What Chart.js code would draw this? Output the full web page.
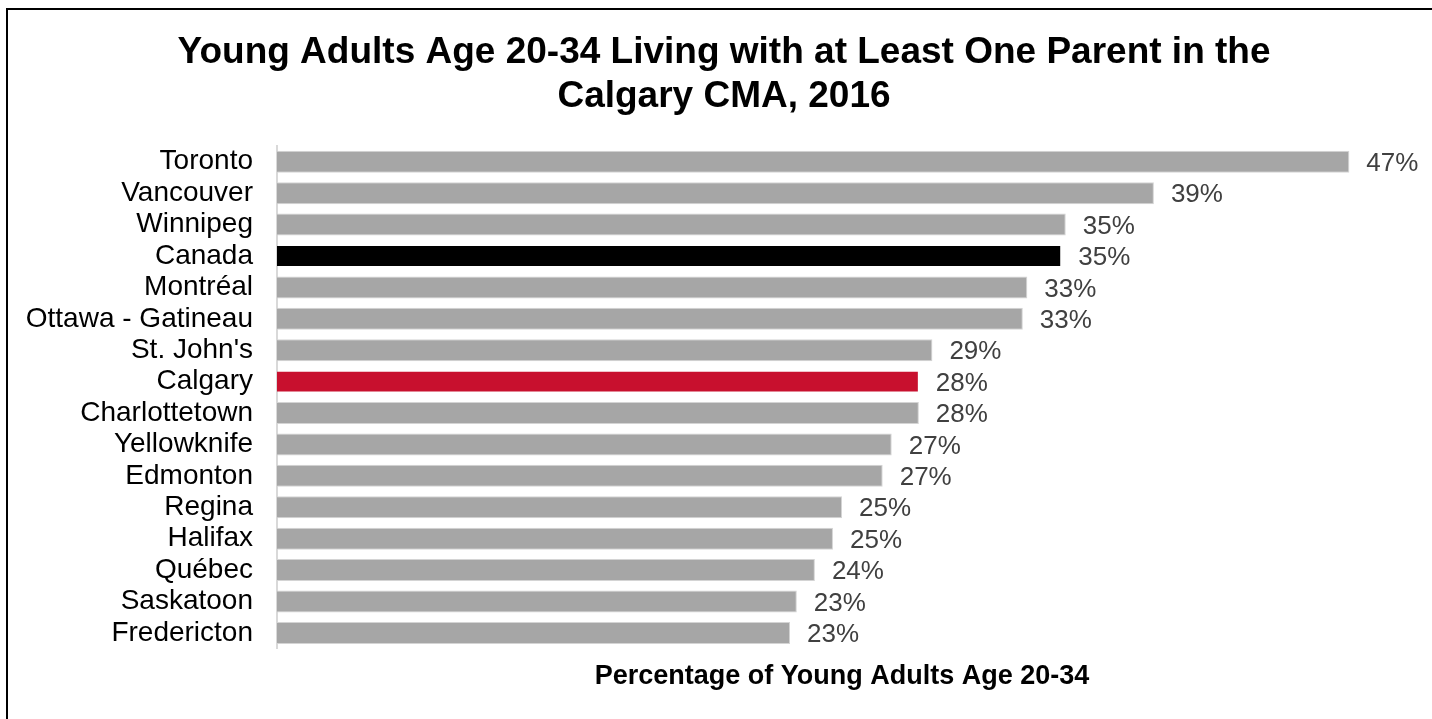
<!DOCTYPE html>
<html>
<head>
<meta charset="utf-8">
<script src="https://cdn.jsdelivr.net/npm/chart.js@4/dist/chart.umd.min.js"></script>
<style>
  html, body { margin: 0; padding: 0; background: #fff; overflow: hidden; }
  #cadre { position: absolute; left: 6px; top: 8px; width: 1500px; height: 800px; border: 2px solid #000; }
  #zone { position: absolute; left: 0; top: 0; width: 1432px; height: 719px; }
</style>
</head>
<body>
<div id="cadre"></div>
<div id="zone"><canvas id="grafico"></canvas></div>
<script>
// Villes (ordre du graphique)
const villes = ['Toronto', 'Vancouver', 'Winnipeg', 'Canada', 'Montréal', 'Ottawa - Gatineau',
  "St. John's", 'Calgary', 'Charlottetown', 'Yellowknife', 'Edmonton', 'Regina', 'Halifax',
  'Québec', 'Saskatoon', 'Fredericton'];

// Pourcentage des jeunes adultes 20-34 vivant avec au moins un parent
const pourcentages = [47.45, 38.8, 34.9, 34.7, 33.2, 33.0, 29.0, 28.4, 28.4, 27.2, 26.8, 25.0, 24.6, 23.8, 23.0, 22.7];

// Couleurs : Canada en noir, Calgary en rouge
const couleurs = villes.map(v => v === 'Canada' ? '#000000' : (v === 'Calgary' ? '#c8102e' : '#a6a6a6'));
const bordures = villes.map(v => (v === 'Canada' || v === 'Calgary') ? 'rgba(0,0,0,0)' : '#d4d4d4');

const police = '"Liberation Sans", Arial, sans-serif';

// Etiquettes de valeur au bout des barres
const etiquettes = {
  id: 'etiquettes',
  afterLayout(chart) {
    // laisse les noms longs déborder dans la marge de gauche
    chart.scales.y.left = 0;
  },
  afterDatasetsDraw(chart) {
    const ctx = chart.ctx;
    const meta = chart.getDatasetMeta(0);
    ctx.save();
    ctx.font = '26px ' + police;
    ctx.fillStyle = '#404040';
    ctx.textAlign = 'left';
    ctx.textBaseline = 'middle';
    meta.data.forEach((barre, i) => {
      ctx.fillText(Math.round(pourcentages[i]) + '%', barre.x + 17, barre.y + 2);
    });
    ctx.restore();
  }
};

const ctx = document.getElementById('grafico').getContext('2d');
const monGrafico = new Chart(ctx, {
  type: 'bar',
  data: {
    labels: villes,
    datasets: [{
      data: pourcentages,
      backgroundColor: couleurs,
      borderColor: bordures,
      borderWidth: 1,
      barPercentage: 0.7,
      categoryPercentage: 1
    }]
  },
  options: {
    indexAxis: 'y',
    responsive: true,
    maintainAspectRatio: false,
    animation: false,
    layout: { padding: { left: 41, right: 25, top: 0, bottom: 26 } },
    plugins: {
      legend: { display: false },
      tooltip: { enabled: false },
      title: {
        display: true,
        text: ['Young Adults Age 20-34 Living with at Least One Parent in the', 'Calgary CMA, 2016'],
        color: '#000',
        font: { family: police, size: 37, weight: 'bold', lineHeight: 1.19 },
        padding: { top: 31, bottom: 27 }
      }
    },
    scales: {
      x: {
        min: 0,
        max: 50,
        grid: { display: false },
        border: { display: false },
        ticks: { display: false },
        title: {
          display: true,
          text: 'Percentage of Young Adults Age 20-34',
          color: '#000',
          font: { family: police, size: 27, weight: 'bold', lineHeight: 1.2 },
          padding: { top: 4, bottom: 0 }
        }
      },
      y: {
        grid: { display: false, drawTicks: false },
        border: { display: true, color: '#d9d9d9', width: 2 },
        afterFit(escala) { escala.width = 236; },
        ticks: {
          autoSkip: false,
          color: '#000',
          padding: 24,
          font: { family: police, size: 28, lineHeight: 1 }
        }
      }
    }
  },
  plugins: [etiquettes]
});
</script>
</body>
</html>
